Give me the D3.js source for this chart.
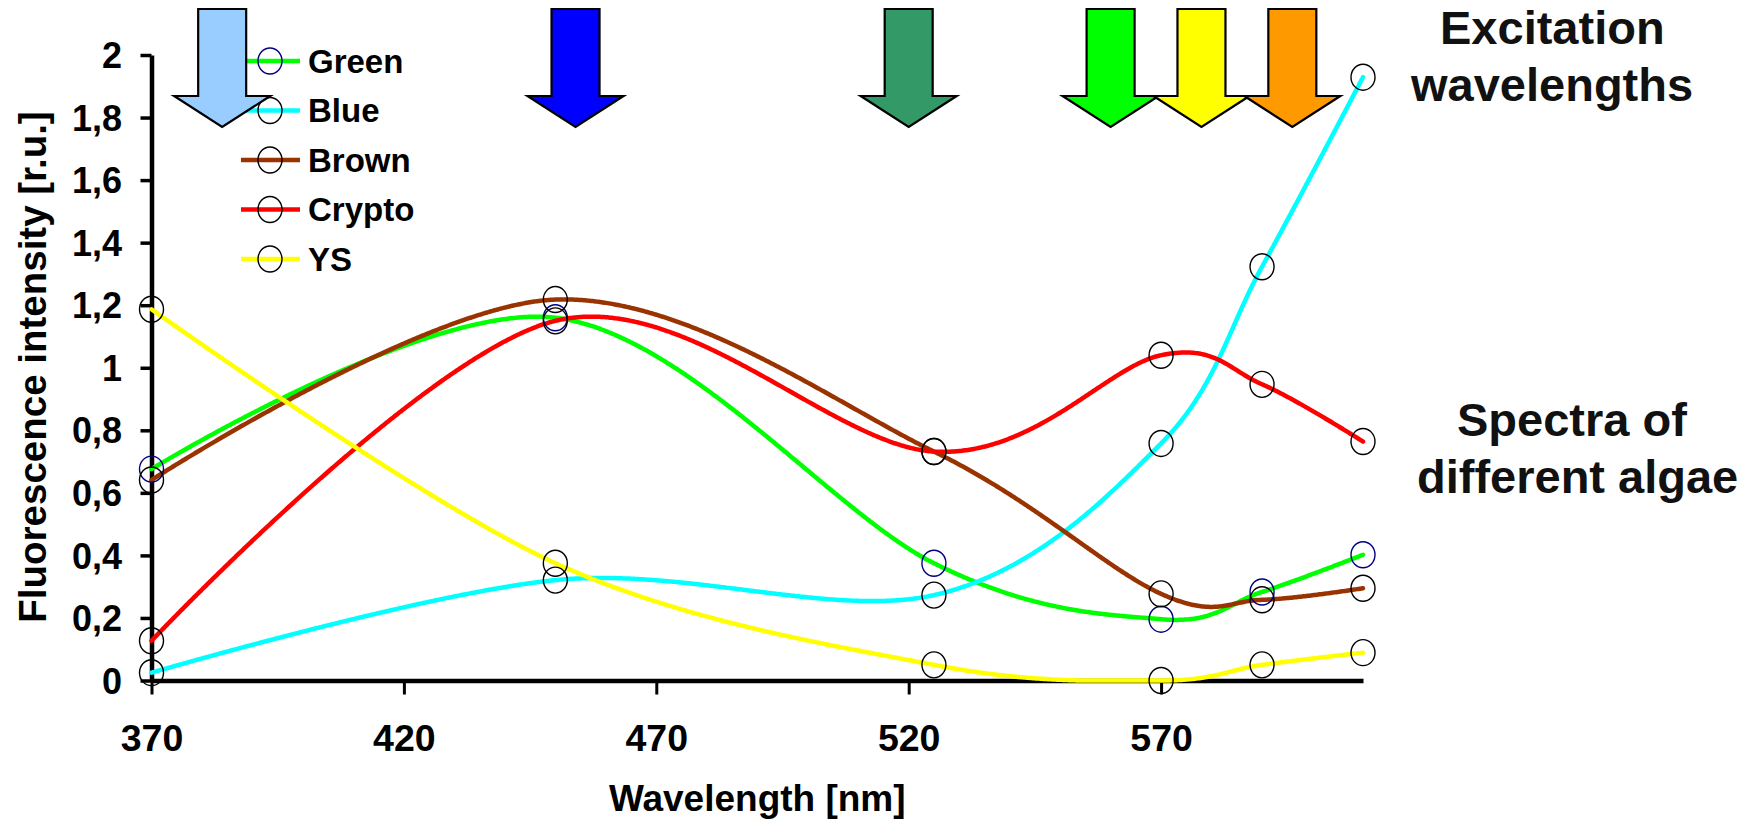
<!DOCTYPE html>
<html>
<head>
<meta charset="utf-8">
<script src="https://cdn.jsdelivr.net/npm/d3@7"></script>
<style>
  html, body { margin: 0; padding: 0; background: #fff; }
  svg { display: block; font-family: "Liberation Sans", Arial, sans-serif; font-weight: bold; }
</style>
</head>
<body>
<svg id="chart" width="1749" height="823"></svg>
<script>
// ---------------- data ----------------
const wavelengths = [370, 450, 525, 570, 590, 610];
const seriesNames = ["Green", "Blue", "Brown", "Crypto", "YS"];
const greenValues  = [0.676, 1.160, 0.375, 0.196, 0.283, 0.402];
const blueValues   = [0.025, 0.321, 0.273, 0.758, 1.323, 1.929];
const brownValues  = [0.641, 1.218, 0.732, 0.277, 0.258, 0.295];
const cryptoValues = [0.127, 1.150, 0.732, 1.040, 0.947, 0.764];
const ysValues     = [1.187, 0.375, 0.050, 0.000, 0.050, 0.089];
const seriesColors = ["#00ff00", "#00ffff", "#993300", "#ff0000", "#ffff00"];
const markerColors = ["#000080", "#000000", "#000000", "#000000", "#000000"];

const xTicks = [370, 420, 470, 520, 570];
const yTicks = [0, 0.2, 0.4, 0.6, 0.8, 1, 1.2, 1.4, 1.6, 1.8, 2];
const yTickLabels = ["0", "0,2", "0,4", "0,6", "0,8", "1", "1,2", "1,4", "1,6", "1,8", "2"];

const excitationWavelengths = [384, 454, 520, 560, 578, 596];
const excitationColors = ["#99ccff", "#0000ff", "#339966", "#00ff00", "#ffff00", "#ff9900"];

const xTitle = "Wavelength [nm]";
const yTitle = "Fluorescence intensity [r.u.]";

// ---------------- layout ----------------
const svg = d3.select("#chart");
svg.append("rect").attr("width", 1749).attr("height", 823).attr("fill", "#fff");

const x = d3.scaleLinear().domain([370, 610]).range([151.5, 1363]);
const y = d3.scaleLinear().domain([0, 2]).range([680.5, 55]);

const series = [greenValues, blueValues, brownValues, cryptoValues, ysValues].map((vals, i) => ({
  name: seriesNames[i],
  color: seriesColors[i],
  marker: markerColors[i],
  points: wavelengths.map((w, j) => ({ w, v: vals[j] }))
}));

// ---------------- axes ----------------
const yAxis = d3.axisLeft(y).tickValues(yTicks)
  .tickFormat((d, i) => yTickLabels[i]).tickSize(11).tickSizeOuter(0);
const gy = svg.append("g").attr("transform", `translate(${x(370)},0)`).call(yAxis);
gy.select(".domain").attr("stroke", "#000").attr("stroke-width", 4.5);
gy.selectAll(".tick line").attr("stroke", "#000").attr("stroke-width", 3.5);
gy.selectAll(".tick text").attr("x", -29.5).attr("dy", "0.35em")
  .attr("font-size", 36).attr("font-weight", "bold").attr("fill", "#000")
  .attr("font-family", "Liberation Sans, Arial, sans-serif");

const xAxis = d3.axisBottom(x).tickValues(xTicks).tickFormat(d3.format("d"))
  .tickSize(14).tickSizeOuter(0);
const gx = svg.append("g").attr("transform", `translate(0,${y(0)})`).call(xAxis);
gx.select(".domain").attr("stroke", "#000").attr("stroke-width", 4.5);
gx.selectAll(".tick line").attr("stroke", "#000").attr("stroke-width", 3);
gx.selectAll(".tick text").attr("y", 70).attr("dy", "0")
  .attr("font-size", 37.5).attr("font-weight", "bold").attr("fill", "#000")
  .attr("font-family", "Liberation Sans, Arial, sans-serif");

svg.append("text").attr("x", (x.range()[0] + x.range()[1]) / 2).attr("y", 811)
  .attr("text-anchor", "middle").attr("font-size", 37).attr("fill", "#000").text(xTitle);
svg.append("text").attr("transform", `translate(46,${367}) rotate(-90)`)
  .attr("text-anchor", "middle").attr("font-size", 38.5).attr("fill", "#000").text(yTitle);

// ---------------- lines ----------------
const line = d3.line().x(d => x(d.w)).y(d => y(d.v)).curve(d3.curveCardinal.tension(0));
const yFloor = y(0);
const linesG = svg.append("g");
series.forEach(s => {
  const p = linesG.append("path").attr("fill", "none").attr("stroke", s.color)
    .attr("stroke-width", 4.5).attr("stroke-linejoin", "round").attr("stroke-linecap", "round")
    .attr("d", line(s.points));
  // clamp the smoothed curve at the plot floor (value 0), as the original chart does
  const node = p.node();
  const len = node.getTotalLength();
  const pts = [];
  for (let t = 0; t <= len; t += 1.5) {
    const q = node.getPointAtLength(t);
    pts.push([q.x, Math.min(q.y, yFloor)]);
  }
  const qe = node.getPointAtLength(len);
  pts.push([qe.x, Math.min(qe.y, yFloor)]);
  p.attr("d", d3.line()(pts));
});

// ---------------- markers ----------------
const markG = svg.append("g");
series.forEach(s => {
  markG.selectAll(null).data(s.points).join("ellipse")
    .attr("cx", d => x(d.w)).attr("cy", d => y(d.v))
    .attr("rx", 12).attr("ry", 13)
    .attr("fill", "none").attr("stroke", s.marker).attr("stroke-width", 1.4);
});

// ---------------- legend ----------------
const legend = svg.append("g");
series.forEach((s, i) => {
  const cy = 61 + i * 49.5;
  legend.append("line").attr("x1", 241).attr("x2", 300).attr("y1", cy).attr("y2", cy)
    .attr("stroke", s.color).attr("stroke-width", 4.5);
  legend.append("ellipse").attr("cx", 270).attr("cy", cy).attr("rx", 12).attr("ry", 13)
    .attr("fill", "none").attr("stroke", s.marker).attr("stroke-width", 1.4);
  legend.append("text").attr("x", 308).attr("y", cy).attr("dy", "0.36em")
    .attr("font-size", 33).attr("fill", "#000").text(s.name);
});

// ---------------- excitation arrows ----------------
const arrowsG = svg.append("g");
excitationWavelengths.forEach((w, i) => {
  const cx = x(w), top = 9, sb = 96, tip = 127, hs = 24, hh = 48;
  const path = d3.path();
  path.moveTo(cx - hs, top); path.lineTo(cx + hs, top); path.lineTo(cx + hs, sb);
  path.lineTo(cx + hh, sb); path.lineTo(cx, tip); path.lineTo(cx - hh, sb);
  path.lineTo(cx - hs, sb); path.closePath();
  arrowsG.append("path").attr("d", path.toString()).attr("fill", excitationColors[i])
    .attr("stroke", "#000").attr("stroke-width", 2.2).attr("stroke-linejoin", "miter");
});

// ---------------- annotations ----------------
const notes = [
  { t: "Excitation", x: 1440, y: 44 },
  { t: "wavelengths", x: 1411, y: 101 },
  { t: "Spectra of", x: 1457, y: 436 },
  { t: "different algae", x: 1417, y: 493 }
];
svg.append("g").selectAll("text").data(notes).join("text")
  .attr("x", d => d.x).attr("y", d => d.y).attr("font-size", 47).attr("fill", "#111")
  .text(d => d.t);
</script>
</body>
</html>
